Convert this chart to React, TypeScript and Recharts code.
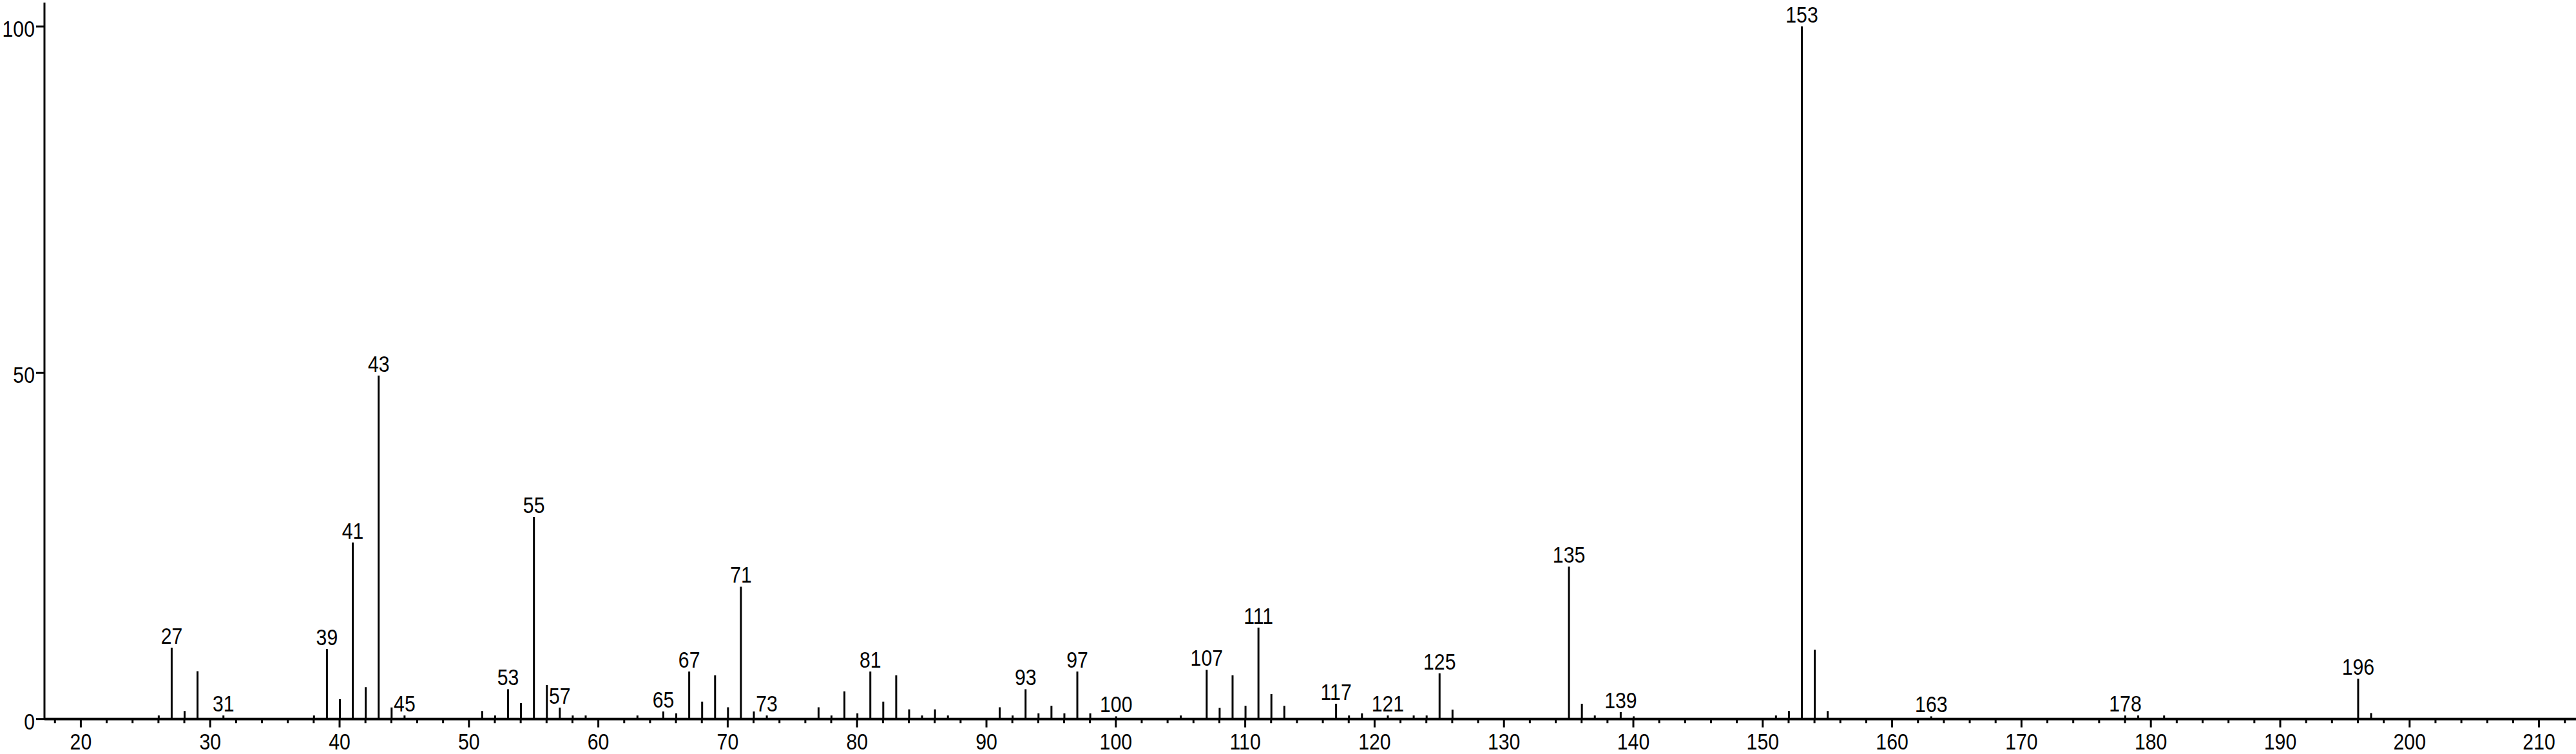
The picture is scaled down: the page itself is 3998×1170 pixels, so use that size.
import React from 'react';
import { BarChart, Bar, XAxis, YAxis, LabelList } from 'recharts';

const mzValues = [
  26, 27, 28, 29, 31, 38, 39, 40, 41, 42, 43, 44, 45, 51, 52, 53, 54, 55, 56, 57, 58, 59,
  63, 65, 66, 67, 68, 69, 70, 71, 72, 73, 77, 78, 79, 80, 81, 82, 83, 84, 85, 86, 87,
  91, 92, 93, 94, 95, 96, 97, 98, 100, 105, 107, 108, 109, 110, 111, 112, 113,
  117, 118, 119, 121, 123, 124, 125, 126, 135, 136, 137, 139, 140,
  151, 152, 153, 154, 155, 163, 178, 179, 181, 196, 197,
];

const intensities = [
  0.5, 10.3, 1.15, 6.9, 0.5, 0.5, 10.1, 2.85, 25.5, 4.6, 49.6, 1.67, 0.5, 1.15, 0.5, 4.3, 2.3, 29.2, 4.9, 1.65, 0.5, 0.5,
  0.5, 1.1, 0.8, 6.85, 2.5, 6.3, 1.7, 19.1, 1.1, 0.5, 1.7, 0.5, 4.0, 0.8, 6.85, 2.5, 6.3, 1.4, 0.5, 1.4, 0.5,
  1.7, 0.5, 4.3, 0.8, 1.9, 0.8, 6.85, 0.8, 0.4, 0.5, 7.1, 1.6, 6.3, 1.9, 13.2, 3.6, 1.9,
  2.2, 0.5, 0.8, 0.5, 0.5, 0.5, 6.6, 1.35, 22.0, 2.2, 0.5, 1.0, 0.4,
  0.5, 1.15, 100, 10.0, 1.15, 0.4, 0.5, 0.5, 0.5, 5.8, 0.85,
];

const labeledMz = [
  27, 31, 39, 41, 43, 45, 53, 55, 57, 65, 67, 71, 73, 81, 93, 97, 100,
  107, 111, 117, 121, 125, 135, 139, 153, 163, 178, 196,
];

const majorTicks = [20, 30, 40, 50, 60, 70, 80, 90, 100, 110, 120, 130, 140, 150, 160, 170, 180, 190, 200, 210];
const yTicks = [0, 50, 100];

const xDomain: [number, number] = [17.19, 212.86];
const yDomain: [number, number] = [0, 103.45];

const xTicks: number[] = [];
for (let v = 18; v <= 212; v += 2) xTicks.push(v);

const data = mzValues.map((mz, i) => ({
  mz,
  intensity: intensities[i],
  label: labeledMz.includes(mz) ? String(mz) : '',
}));

const FONT = '"Liberation Sans", Arial, Helvetica, sans-serif';

const NarrowText = ({ x, y, anchor, children }: any) => (
  <text
    transform={`translate(${x},${y}) scale(0.84,1)`}
    x={0}
    y={0}
    textAnchor={anchor}
    fontSize={36}
    fontFamily={FONT}
    fill="#000"
  >
    {children}
  </text>
);

const XTick = (props: any) => {
  const { x, y, payload } = props;
  const v = payload.value;
  const major = majorTicks.includes(v);
  return (
    <g>
      <line x1={x} x2={x} y1={y} y2={y + (major ? 13 : 6.5)} stroke="#000" strokeWidth={3} />
      {major && (
        <NarrowText x={x} y={y + 47} anchor="middle">
          {v}
        </NarrowText>
      )}
    </g>
  );
};

const YTick = (props: any) => {
  const { x, y, payload } = props;
  return (
    <g>
      <line x1={x - 13} x2={x} y1={y} y2={y} stroke="#000" strokeWidth={3} />
      <NarrowText x={x - 15} y={y + 16} anchor="end">
        {payload.value}
      </NarrowText>
    </g>
  );
};

const PeakLabel = (props: any) => {
  const vb = props.viewBox || props;
  const x = props.x ?? vb.x;
  const y = props.y ?? vb.y;
  const width = props.width ?? vb.width;
  const value = props.value;
  if (!value) return null;
  return (
    <NarrowText x={x + width / 2} y={y - 6} anchor="middle">
      {value}
    </NarrowText>
  );
};

export default function App() {
  return (
    <div style={{ position: 'absolute', left: 0, top: 0, background: '#fff' }}>
      <BarChart
        width={3998}
        height={1170}
        data={data}
        margin={{ top: 4, right: 0, bottom: 0, left: 0 }}
      >
        <XAxis
          dataKey="mz"
          type="number"
          domain={xDomain}
          allowDataOverflow
          ticks={xTicks}
          interval={0}
          height={54.3}
          tickSize={0}
          tickMargin={0}
          axisLine={{ stroke: '#000', strokeWidth: 4 }}
          tickLine={false}
          tick={<XTick />}
        />
        <YAxis
          type="number"
          domain={yDomain}
          allowDataOverflow
          ticks={yTicks}
          interval={0}
          width={69}
          tickSize={0}
          tickMargin={0}
          axisLine={{ stroke: '#000', strokeWidth: 3 }}
          tickLine={false}
          tick={<YTick />}
        />
        <Bar dataKey="intensity" fill="#000" barSize={3} isAnimationActive={false}>
          <LabelList dataKey="label" content={<PeakLabel />} />
        </Bar>
      </BarChart>
    </div>
  );
}
